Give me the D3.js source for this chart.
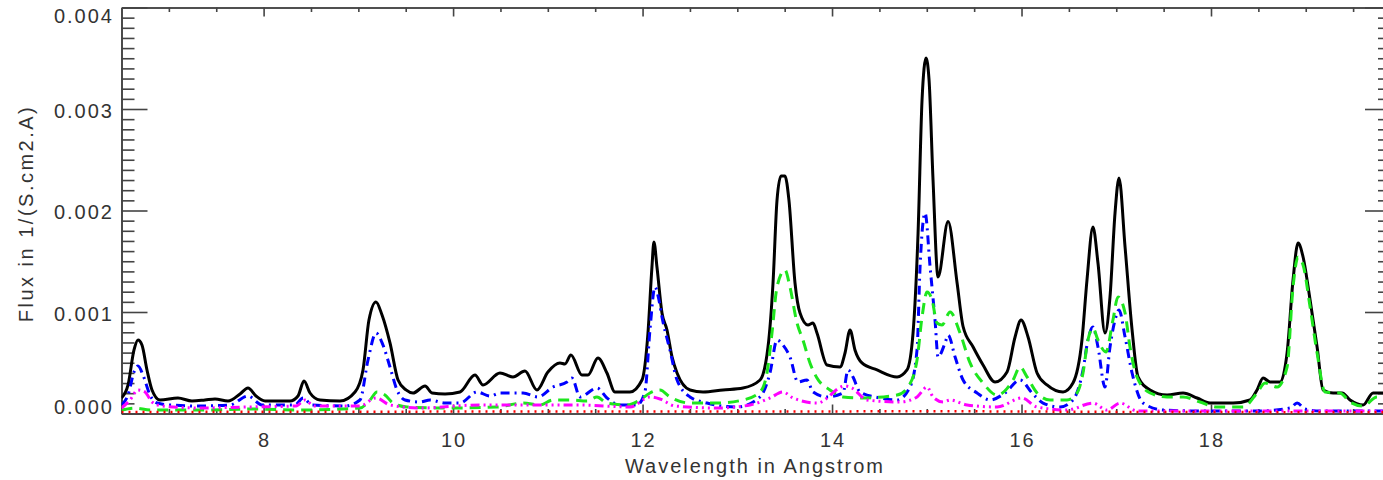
<!DOCTYPE html>
<html>
<head>
<meta charset="utf-8">
<script src="https://cdn.jsdelivr.net/npm/d3@7"></script>
<style>
  html, body { margin: 0; padding: 0; background: #fff; overflow: hidden; }
  svg { display: block; }
  .lbl { font-family: "Liberation Sans", Arial, sans-serif; fill: #333; }
</style>
</head>
<body>
<svg id="chart" width="1383" height="480"></svg>
<script>
// Total spectrum (black, solid)
const lambdaTotal = [6.50, 6.569, 6.632, 6.674, 6.716, 6.769, 6.822, 6.906, 7.096, 7.244, 7.381, 7.487, 7.624, 7.751, 7.835, 7.920, 8.015, 8.279, 8.363, 8.426, 8.490, 8.595, 8.806, 8.965, 9.049, 9.112, 9.186, 9.250, 9.334, 9.419, 9.503, 9.577, 9.704, 9.778, 9.915, 10.073, 10.231, 10.316, 10.495, 10.632, 10.759, 10.885, 11.001, 11.128, 11.181, 11.244, 11.360, 11.424, 11.529, 11.624, 11.709, 11.867, 11.994, 12.057, 12.099, 12.120, 12.152, 12.205, 12.258, 12.311, 12.364, 12.501, 12.638, 12.849, 13.060, 13.240, 13.324, 13.377, 13.419, 13.461, 13.503, 13.545, 13.609, 13.662, 13.746, 13.799, 13.841, 13.947, 14.084, 14.137, 14.190, 14.242, 14.316, 14.475, 14.686, 14.791, 14.855, 14.908, 14.950, 14.992, 15.024, 15.066, 15.119, 15.225, 15.320, 15.383, 15.489, 15.594, 15.721, 15.847, 15.932, 15.995, 16.069, 16.164, 16.269, 16.438, 16.543, 16.638, 16.691, 16.754, 16.807, 16.881, 16.934, 16.987, 17.029, 17.093, 17.167, 17.230, 17.357, 17.536, 17.705, 17.853, 17.990, 18.233, 18.412, 18.486, 18.550, 18.624, 18.729, 18.803, 18.866, 18.919, 18.972, 19.046, 19.120, 19.183, 19.289, 19.384, 19.468, 19.605, 19.711, 19.817, 19.90];
const fluxTotal = [0.000153, 0.000281, 0.000626, 0.000724, 0.000675, 0.000429, 0.000232, 0.000133, 0.000153, 0.000123, 0.000133, 0.000143, 0.000123, 0.000192, 0.000251, 0.000172, 0.000123, 0.000123, 0.000172, 0.000320, 0.000202, 0.000133, 0.000123, 0.000212, 0.000429, 0.000921, 0.001099, 0.000970, 0.000695, 0.000330, 0.000232, 0.000202, 0.000271, 0.000202, 0.000192, 0.000212, 0.000379, 0.000281, 0.000399, 0.000360, 0.000419, 0.000232, 0.000409, 0.000498, 0.000488, 0.000576, 0.000379, 0.000379, 0.000547, 0.000399, 0.000212, 0.000212, 0.000330, 0.000793, 0.001443, 0.001690, 0.001443, 0.000990, 0.000823, 0.000557, 0.000399, 0.000232, 0.000212, 0.000232, 0.000251, 0.000330, 0.000655, 0.001286, 0.002100, 0.002340, 0.002340, 0.002103, 0.001286, 0.000990, 0.000872, 0.000892, 0.000793, 0.000478, 0.000458, 0.000596, 0.000823, 0.000626, 0.000498, 0.000429, 0.000360, 0.000429, 0.000793, 0.001778, 0.003089, 0.003502, 0.003286, 0.002300, 0.001345, 0.001892, 0.001286, 0.000857, 0.000655, 0.000478, 0.000310, 0.000409, 0.000754, 0.000921, 0.000754, 0.000399, 0.000281, 0.000212, 0.000300, 0.000724, 0.001315, 0.001837, 0.001483, 0.000793, 0.001148, 0.001975, 0.002320, 0.001640, 0.000823, 0.000360, 0.000232, 0.000182, 0.000202, 0.000153, 0.000103, 0.000103, 0.000133, 0.000232, 0.000350, 0.000310, 0.000310, 0.000596, 0.001315, 0.001680, 0.001542, 0.001118, 0.000655, 0.000232, 0.000202, 0.000202, 0.000133, 0.000084, 0.000202, 0.000202, 0.000190];

// Component 1 (blue, dash-dot)
const lambdaBlue = [6.50, 6.569, 6.632, 6.674, 6.727, 6.801, 6.875, 7.012, 7.329, 7.645, 7.835, 7.983, 8.332, 8.416, 8.511, 8.859, 9.017, 9.102, 9.186, 9.260, 9.334, 9.408, 9.492, 9.651, 9.757, 9.915, 10.073, 10.252, 10.390, 10.495, 10.738, 10.896, 11.054, 11.202, 11.255, 11.339, 11.519, 11.624, 11.761, 11.941, 12.025, 12.078, 12.131, 12.173, 12.205, 12.289, 12.364, 12.501, 12.680, 12.996, 13.240, 13.345, 13.419, 13.482, 13.556, 13.640, 13.735, 13.799, 13.947, 14.116, 14.169, 14.221, 14.295, 14.506, 14.686, 14.823, 14.897, 14.929, 14.982, 15.035, 15.087, 15.119, 15.193, 15.225, 15.299, 15.383, 15.531, 15.668, 15.826, 15.984, 16.111, 16.227, 16.406, 16.543, 16.649, 16.701, 16.754, 16.807, 16.881, 16.934, 16.987, 17.029, 17.093, 17.167, 17.283, 17.494, 17.885, 18.518, 18.835, 18.909, 18.993, 19.151, 19.90];
const fluxBlue = [0.000084, 0.000182, 0.000409, 0.000468, 0.000379, 0.000182, 0.000103, 0.000084, 0.000074, 0.000084, 0.000172, 0.000084, 0.000084, 0.000153, 0.000084, 0.000074, 0.000133, 0.000527, 0.000793, 0.000675, 0.000458, 0.000232, 0.000133, 0.000113, 0.000133, 0.000103, 0.000103, 0.000212, 0.000172, 0.000202, 0.000202, 0.000163, 0.000261, 0.000310, 0.000350, 0.000163, 0.000251, 0.000153, 0.000084, 0.000084, 0.000212, 0.000823, 0.001246, 0.001118, 0.000951, 0.000626, 0.000330, 0.000163, 0.000103, 0.000064, 0.000163, 0.000399, 0.000724, 0.000675, 0.000557, 0.000310, 0.000330, 0.000212, 0.000163, 0.000202, 0.000429, 0.000360, 0.000212, 0.000153, 0.000133, 0.000261, 0.000626, 0.001443, 0.001975, 0.001443, 0.000921, 0.000557, 0.000695, 0.000773, 0.000557, 0.000330, 0.000202, 0.000133, 0.000202, 0.000330, 0.000202, 0.000103, 0.000064, 0.000133, 0.000429, 0.000724, 0.000852, 0.000655, 0.000261, 0.000655, 0.000921, 0.001020, 0.000754, 0.000399, 0.000103, 0.000034, 0.000025, 0.000025, 0.000054, 0.000103, 0.000044, 0.000025, 0.000025];

// Component 2 (green, dashed)
const lambdaGreen = [6.50, 6.643, 6.801, 7.329, 7.856, 8.384, 9.017, 9.123, 9.197, 9.281, 9.366, 9.514, 9.936, 10.464, 10.738, 10.917, 11.054, 11.234, 11.413, 11.519, 11.624, 11.836, 11.973, 12.078, 12.184, 12.289, 12.501, 12.786, 13.060, 13.240, 13.313, 13.366, 13.419, 13.503, 13.556, 13.630, 13.693, 13.767, 13.841, 13.978, 14.116, 14.316, 14.686, 14.802, 14.897, 14.950, 15.003, 15.056, 15.108, 15.161, 15.246, 15.351, 15.457, 15.594, 15.742, 15.911, 15.984, 16.058, 16.164, 16.301, 16.480, 16.586, 16.649, 16.701, 16.754, 16.807, 16.891, 16.965, 17.018, 17.093, 17.145, 17.219, 17.357, 17.536, 17.705, 17.885, 18.064, 18.339, 18.486, 18.571, 18.698, 18.803, 18.866, 18.919, 18.972, 19.046, 19.120, 19.204, 19.363, 19.468, 19.605, 19.753, 19.90];
const fluxGreen = [0.000034, 0.000054, 0.000034, 0.000034, 0.000044, 0.000034, 0.000054, 0.000133, 0.000212, 0.000182, 0.000103, 0.000064, 0.000054, 0.000064, 0.000103, 0.000084, 0.000133, 0.000133, 0.000123, 0.000163, 0.000103, 0.000084, 0.000133, 0.000202, 0.000232, 0.000163, 0.000103, 0.000103, 0.000133, 0.000212, 0.000399, 0.000793, 0.001246, 0.001414, 0.001246, 0.000892, 0.000724, 0.000498, 0.000350, 0.000232, 0.000163, 0.000153, 0.000182, 0.000261, 0.000527, 0.000951, 0.001197, 0.001118, 0.000892, 0.000872, 0.001000, 0.000793, 0.000498, 0.000300, 0.000182, 0.000330, 0.000458, 0.000360, 0.000202, 0.000133, 0.000133, 0.000202, 0.000399, 0.000724, 0.000842, 0.000724, 0.000606, 0.000921, 0.001148, 0.000990, 0.000655, 0.000360, 0.000202, 0.000163, 0.000163, 0.000113, 0.000064, 0.000064, 0.000202, 0.000300, 0.000261, 0.000458, 0.001246, 0.001542, 0.001463, 0.001049, 0.000596, 0.000212, 0.000202, 0.000113, 0.000074, 0.000163, 0.000150];

// Component 3 (magenta, dash-dot-dot-dot)
const lambdaMagenta = [6.50, 6.590, 6.674, 6.748, 6.822, 6.928, 7.329, 7.835, 8.342, 8.437, 8.532, 9.017, 9.186, 9.334, 9.651, 10.284, 10.811, 11.339, 11.867, 12.078, 12.184, 12.342, 12.786, 13.134, 13.345, 13.482, 13.588, 13.841, 14.137, 14.211, 14.369, 14.717, 14.897, 15.003, 15.066, 15.172, 15.246, 15.425, 15.742, 16.005, 16.164, 16.480, 16.754, 16.902, 17.040, 17.219, 19.90];
const fluxMagenta = [0.000054, 0.000133, 0.000232, 0.000212, 0.000113, 0.000074, 0.000054, 0.000064, 0.000074, 0.000133, 0.000074, 0.000074, 0.000153, 0.000084, 0.000054, 0.000084, 0.000084, 0.000084, 0.000064, 0.000163, 0.000143, 0.000074, 0.000054, 0.000084, 0.000153, 0.000212, 0.000153, 0.000103, 0.000271, 0.000251, 0.000133, 0.000113, 0.000163, 0.000261, 0.000163, 0.000113, 0.000133, 0.000084, 0.000064, 0.000153, 0.000064, 0.000034, 0.000103, 0.000034, 0.000103, 0.000025, 0.000025];

// Component 4 (red, dotted)
const lambdaRed = [6.50, 9.20, 12.10, 13.50, 15.00, 17.00, 19.90];
const fluxRed = [0.000015, 0.000018, 0.000020, 0.000020, 0.000022, 0.000016, 0.000012];

// Axis ticks
const xMajorTicks = [8, 10, 12, 14, 16, 18];
const xMinorTicks = [7, 7.5, 8.5, 9, 9.5, 10.5, 11, 11.5, 12.5, 13, 13.5, 14.5, 15, 15.5, 16.5, 17, 17.5, 18.5, 19, 19.5];
const yMajorTicks = [0, 0.001, 0.002, 0.003, 0.004];
const yMinorTicks = d3.range(1, 40).filter(i => i % 10 !== 0).map(i => i / 10000);

const svg = d3.select("#chart");
const frame = { left: 121.5, right: 1391, top: 7.5, bottom: 413.5 };

const x = d3.scaleLinear().domain([6.5, 19.9]).range([frame.left, frame.right]);
const y = d3.scaleLinear().domain([0, 0.004]).range([frame.bottom, frame.top]);

const frameColor = "#444";

function styleAxis(g) {
  g.select(".domain").attr("stroke", frameColor).attr("stroke-width", 1.6);
  g.selectAll(".tick line").attr("stroke", frameColor).attr("stroke-width", 1.6);
  g.selectAll(".tick text").remove();
}

function addAxis(axisFn, scale, pos, values, size) {
  const g = svg.append("g").attr("transform", pos);
  g.call(axisFn(scale).tickValues(values).tickSize(size).tickSizeOuter(0)).call(styleAxis);
  return g;
}

// frame with inward-pointing ticks on all four sides
addAxis(d3.axisBottom, x, `translate(0,${frame.bottom})`, xMinorTicks, -4.5);
addAxis(d3.axisBottom, x, `translate(0,${frame.bottom})`, xMajorTicks, -9);
addAxis(d3.axisTop, x, `translate(0,${frame.top})`, xMinorTicks, -4.5);
addAxis(d3.axisTop, x, `translate(0,${frame.top})`, xMajorTicks, -9);
addAxis(d3.axisLeft, y, `translate(${frame.left},0)`, yMinorTicks, -13);
addAxis(d3.axisLeft, y, `translate(${frame.left},0)`, yMajorTicks, -26);
addAxis(d3.axisRight, y, `translate(${frame.right},0)`, yMinorTicks, -13);
addAxis(d3.axisRight, y, `translate(${frame.right},0)`, yMajorTicks, -26);

// x tick labels
svg.append("g").selectAll("text").data(xMajorTicks).join("text")
  .attr("class", "lbl")
  .attr("x", d => x(d) + 1)
  .attr("y", 447)
  .attr("text-anchor", "middle")
  .attr("font-size", 20)
  .attr("letter-spacing", 2)
  .text(d => d);

// y tick labels (end labels kept inside the frame)
const yFmt = d3.format(".3f");
svg.append("g").selectAll("text").data(yMajorTicks).join("text")
  .attr("class", "lbl")
  .attr("x", 114)
  .attr("y", (d, i) => {
    if (i === 0) return y(d);
    if (i === yMajorTicks.length - 1) return y(d) + 15;
    return y(d) + 8.5;
  })
  .attr("text-anchor", "end")
  .attr("font-size", 20)
  .attr("letter-spacing", 2)
  .text(d => yFmt(d));

// axis titles
svg.append("text").attr("class", "lbl")
  .attr("x", 755).attr("y", 473)
  .attr("text-anchor", "middle")
  .attr("font-size", 20).attr("letter-spacing", 2)
  .text("Wavelength in Angstrom");

svg.append("text").attr("class", "lbl")
  .attr("transform", `translate(33,${(frame.top + frame.bottom) / 2 + 3}) rotate(-90)`)
  .attr("text-anchor", "middle")
  .attr("font-size", 20).attr("letter-spacing", 2.5)
  .text("Flux in 1/(S.cm2.A)");

// spectra
svg.append("clipPath").attr("id", "plotclip")
  .append("rect")
  .attr("x", frame.left).attr("y", frame.top)
  .attr("width", frame.right - frame.left).attr("height", frame.bottom - frame.top + 2);

const series = [
  { lam: lambdaTotal, flux: fluxTotal, color: "#000000", dash: null, width: 3 },
  { lam: lambdaBlue, flux: fluxBlue, color: "#0000ff", dash: "9,5,2,5", width: 3 },
  { lam: lambdaGreen, flux: fluxGreen, color: "#1ee61e", dash: "11,7", width: 3 },
  { lam: lambdaMagenta, flux: fluxMagenta, color: "#ff00ff", dash: "9,4,2,4,2,4,2,4", width: 3 },
  { lam: lambdaRed, flux: fluxRed, color: "#ff0000", dash: "2,5", width: 2.5 }
];

const line = d3.line().curve(d3.curveMonotoneX).x(d => x(d[0])).y(d => y(d[1]));

const gLines = svg.append("g").attr("clip-path", "url(#plotclip)");
series.forEach(s => {
  gLines.append("path")
    .datum(s.lam.map((l, i) => [l, s.flux[i]]))
    .attr("fill", "none")
    .attr("stroke", s.color)
    .attr("stroke-width", s.width)
    .attr("stroke-linejoin", "round")
    .attr("stroke-dasharray", s.dash)
    .attr("d", line);
});
</script>
</body>
</html>
